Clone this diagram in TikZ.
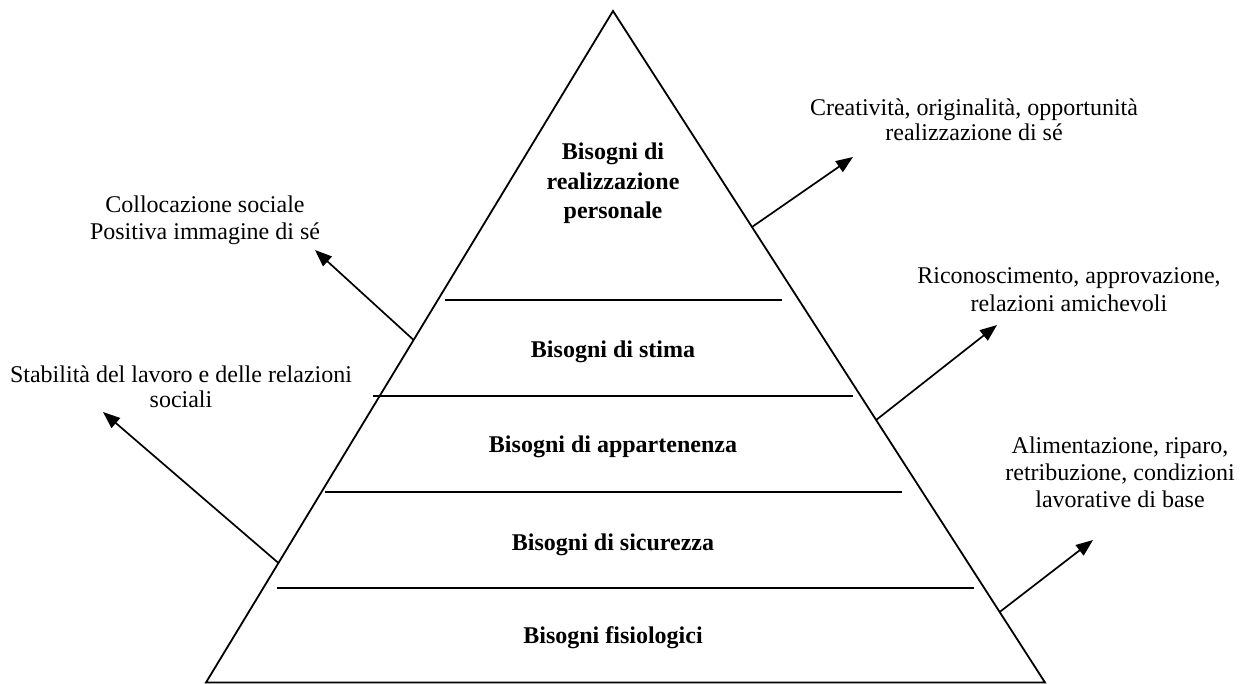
\documentclass[tikz,border=0pt]{standalone}
\usepackage{fontspec}
\setmainfont{Liberation Serif}
\usetikzlibrary{arrows.meta,calc}

\tikzset{
  edge/.style={line width=1.8pt, line cap=round, line join=miter},
  layer/.style={line width=1.8pt},
  pointer/.style={line width=1.7pt, -{Triangle[length=17pt,width=13pt]}},
  level/.style={font=\bfseries\fontsize{24}{29.5}\selectfont, align=center, inner sep=0pt, anchor=base},
  note/.style={font=\fontsize{24}{#1}\selectfont, align=center, inner sep=0pt, anchor=base},
  note/.default=27
}

\begin{document}
\begin{tikzpicture}[x=1pt,y=-1pt]
\useasboundingbox (0,0) rectangle (1244,684);

% pyramid outline
\coordinate (apex) at (613,11);
\coordinate (bl) at (206,682.5);
\coordinate (br) at (1045,682.5);
\draw[edge] (bl) -- (apex) -- (br) -- cycle;

% dividing lines between the levels
\coordinate (d1a) at (445,300); \coordinate (d1b) at (782,300);
\coordinate (d2a) at (373,396); \coordinate (d2b) at (853,396);
\coordinate (d3a) at (325,492); \coordinate (d3b) at (902,492);
\coordinate (d4a) at (277,588); \coordinate (d4b) at (974,588);
\draw[layer] (d1a) -- (d1b);
\draw[layer] (d2a) -- (d2b);
\draw[layer] (d3a) -- (d3b);
\draw[layer] (d4a) -- (d4b);

% level names (anchored on the baseline of the last line)
\node[level] (n5) at (613,219) {Bisogni di\\realizzazione\\personale};
\node[level] (n4) at (613,357) {Bisogni di stima};
\node[level] (n3) at (613,452) {Bisogni di appartenenza};
\node[level] (n2) at (613,550) {Bisogni di sicurezza};
\node[level] (n1) at (613,643) {Bisogni fisiologici};

% side notes
\node[note=25] (t5) at (974,141) {Creatività, originalità, opportunità\\realizzazione di sé};
\node[note=27] (t4) at (205,240) {Collocazione sociale\\Positiva immagine di sé};
\node[note=28] (t3) at (1069,312) {Riconoscimento, approvazione,\\relazioni amichevoli};
\node[note=25] (t2) at (181,407) {Stabilità del lavoro e delle relazioni\\sociali};
\node[note=27] (t1) at (1120,507) {Alimentazione, riparo,\\retribuzione, condizioni\\lavorative di base};

% arrow starts on the pyramid sides
\coordinate (s5) at ($(apex)!{(227-11)/671.5}!(br)$);
\coordinate (s4) at ($(apex)!{(340-11)/671.5}!(bl)$);
\coordinate (s3) at ($(apex)!{(420-11)/671.5}!(br)$);
\coordinate (s2) at ($(apex)!{(563-11)/671.5}!(bl)$);
\coordinate (s1) at ($(apex)!{(612-11)/671.5}!(br)$);

% arrow tips
\coordinate (e5) at (853,157);
\coordinate (e4) at (315,250);
\coordinate (e3) at (997,325);
\coordinate (e2) at (103,412);
\coordinate (e1) at (1093,540);

\draw[pointer] (s5) -- (e5);
\draw[pointer] (s4) -- (e4);
\draw[pointer] (s3) -- (e3);
\draw[pointer] (s2) -- (e2);
\draw[pointer] (s1) -- (e1);
\end{tikzpicture}
\end{document}
